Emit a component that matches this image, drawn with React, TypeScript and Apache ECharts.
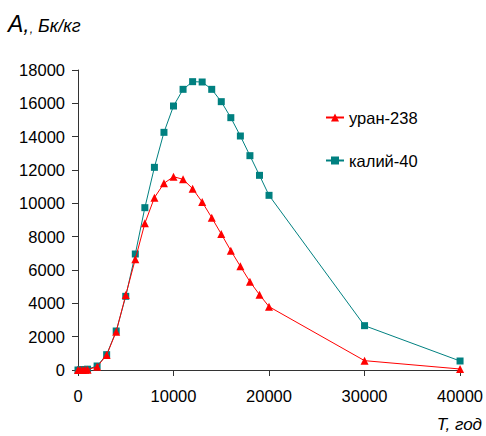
import React, { useEffect, useRef } from "react";
import * as echarts from "echarts";

const years = [0, 250, 500, 750, 1000, 2000, 3000, 4000, 5000, 6000, 7000, 8000, 9000, 10000, 11000, 12000, 13000, 14000, 15000, 16000, 17000, 18000, 19000, 20000, 30000, 40000];
const uranium = [0, 0, 5, 10, 20, 200, 900, 2300, 4500, 6650, 8800, 10340, 11200, 11600, 11440, 10880, 10080, 9140, 8160, 7160, 6220, 5300, 4520, 3800, 560, 60];
const potassium = [0, 10, 20, 30, 50, 240, 920, 2340, 4420, 6960, 9740, 12160, 14260, 15840, 16840, 17300, 17280, 16840, 16100, 15140, 14040, 12860, 11680, 10480, 2660, 540];
const seriesNames = ["уран-238", "калий-40"];

const FONT = "'Liberation Sans', Arial, sans-serif";

export default function App() {
  const ref = useRef<HTMLDivElement>(null);
  useEffect(() => {
    if (!ref.current) return;
    const chart = echarts.init(ref.current, null, { renderer: "svg" });
    chart.setOption({
      animation: false,
      backgroundColor: "#ffffff",
      grid: { left: 78, right: 24, top: 70, bottom: 66 },
      legend: {
        orient: "vertical",
        left: 320,
        top: 104,
        itemGap: 26,
        itemWidth: 18,
        itemHeight: 10,
        textStyle: { fontFamily: FONT, fontSize: 16.5, color: "#000" },
        data: seriesNames,
      },
      graphic: [
        {
          type: "text",
          left: 8,
          top: 12,
          style: {
            text: "{a|A,}{c|,}{b| Бк/кг}",
            rich: {
              a: { fontFamily: FONT, fontSize: 23, fontStyle: "italic", fill: "#000", verticalAlign: "bottom", lineHeight: 24 },
              c: { fontFamily: FONT, fontSize: 12, fontStyle: "italic", fill: "#000", verticalAlign: "bottom", lineHeight: 24 },
              b: { fontFamily: FONT, fontSize: 18, fontStyle: "italic", fill: "#000", verticalAlign: "bottom", lineHeight: 24 },
            },
          },
        },
        {
          type: "text",
          right: 4,
          top: 416,
          style: { text: "T, год", fontFamily: FONT, fontSize: 17, fontStyle: "italic", fill: "#000" },
        },
      ],
      xAxis: {
        type: "value",
        min: 0,
        max: 40000,
        interval: 10000,
        splitLine: { show: false },
        axisLine: { lineStyle: { color: "#333" } },
        axisTick: { show: true, length: 6, lineStyle: { color: "#333" } },
        axisLabel: { fontFamily: FONT, fontSize: 16.5, color: "#000", margin: 17, formatter: (v: number) => String(v) },
      },
      yAxis: {
        type: "value",
        min: 0,
        max: 18000,
        interval: 2000,
        splitLine: { show: false },
        axisLine: { show: true, lineStyle: { color: "#333" } },
        axisTick: { show: true, length: 6, lineStyle: { color: "#333" } },
        axisLabel: { fontFamily: FONT, fontSize: 16.5, color: "#000", margin: 13, formatter: (v: number) => String(v) },
      },
      series: [
        {
          name: seriesNames[0],
          type: "line",
          data: years.map((x, i) => [x, uranium[i]]),
          symbol: "triangle",
          symbolSize: 8,
          lineStyle: { color: "#ff0000", width: 1 },
          itemStyle: { color: "#ff0000" },
          z: 3,
        },
        {
          name: seriesNames[1],
          type: "line",
          data: years.map((x, i) => [x, potassium[i]]),
          symbol: "rect",
          symbolSize: 7,
          lineStyle: { color: "#008080", width: 1 },
          itemStyle: { color: "#008080" },
          z: 2,
        },
      ],
    });
    return () => chart.dispose();
  }, []);
  return <div ref={ref} style={{ position: "fixed", left: 0, top: 0, width: 486, height: 436 }} />;
}
